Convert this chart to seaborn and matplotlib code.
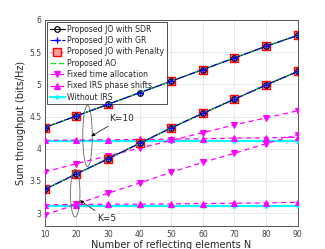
import matplotlib
matplotlib.use("Agg")
import matplotlib.pyplot as plt
from matplotlib.patches import Ellipse
import seaborn as sns
import numpy as np

sns.set_style("whitegrid")
plt.rcParams['font.family'] = ['DejaVu Sans']

N = [10, 20, 30, 40, 50, 60, 70, 80, 90]
prop_k10 = [4.33, 4.51, 4.69, 4.87, 5.05, 5.23, 5.41, 5.59, 5.76]
prop_k5 = [3.37, 3.61, 3.845, 4.085, 4.325, 4.55, 4.77, 4.99, 5.20]
fta_k10 = [3.64, 3.77, 3.89, 4.01, 4.13, 4.25, 4.37, 4.48, 4.59]
fta_k5 = [2.97, 3.14, 3.31, 3.47, 3.635, 3.79, 3.93, 4.08, 4.22]
fps_k10 = [4.13, 4.135, 4.14, 4.145, 4.15, 4.155, 4.165, 4.17, 4.18]
fps_k5 = [3.13, 3.135, 3.14, 3.14, 3.145, 3.15, 3.155, 3.16, 3.17]
noirs_k10 = [4.115] * 9
noirs_k5 = [3.11] * 9
xticks = [10, 20, 30, 40, 50, 60, 70, 80, 90]
yticks = [3, 3.5, 4, 4.5, 5, 5.5, 6]

fig = plt.figure(figsize=(3.25, 2.49), dpi=100)
ax = fig.add_axes([0.138, 0.092, 0.778, 0.828])

def draw(y, label, **kw):
    sns.lineplot(x=N, y=y, ax=ax, label=label, legend=False, **kw)

for i, (nv, fps, fta) in enumerate([(noirs_k10, fps_k10, fta_k10), (noirs_k5, fps_k5, fta_k5)]):
    lab = (i == 0)
    draw(nv, "Without IRS" if lab else None, color="cyan", lw=1.6, marker="*",
         markersize=3.5, markeredgecolor="cyan", zorder=3)
    draw(fps, "Fixed IRS phase shifts" if lab else None, color="magenta", lw=0.9,
         linestyle=(0, (4, 3)), marker="^", markersize=3.8, markerfacecolor="magenta",
         markeredgecolor="magenta", zorder=4)
    draw(fta, "Fixed time allocation" if lab else None, color="magenta", lw=0.9,
         linestyle=(0, (4, 3)), marker="v", markersize=3.8, markerfacecolor="magenta",
         markeredgecolor="magenta", zorder=4)

for i, pv in enumerate([prop_k10, prop_k5]):
    lab = (i == 0)
    draw(pv, "Proposed JO with Penalty" if lab else None, color="red", lw=0.8,
         linestyle=":", marker="s", markersize=5.5, markerfacecolor="#f7a0a0",
         markeredgecolor="red", markeredgewidth=1.0, zorder=5)
    draw(pv, "Proposed JO with SDR" if lab else None, color="black", lw=0.8,
         marker="o", markersize=4, markerfacecolor="none", markeredgecolor="black",
         markeredgewidth=0.9, zorder=6)
    draw(pv, "Proposed JO with GR" if lab else None, color="blue", lw=0.8,
         linestyle="-.", marker="+", markersize=4.5, markeredgecolor="blue",
         markeredgewidth=1.0, zorder=7)
    draw(pv, "Proposed AO" if lab else None, color="#22dd22", lw=1.0,
         linestyle=(0, (4, 2)), zorder=6.5)

ax.set_xlim(10, 90)
ax.set_ylim(2.8, 6)
ax.set_xticks(xticks)
ax.set_yticks(yticks)
ax.set_yticklabels(["3", "3.5", "4", "4.5", "5", "5.5", "6"])
ax.tick_params(labelsize=5.5, colors="#404040", length=2, direction="in", pad=2.5)
ax.grid(True, color="#e6e6e6", lw=0.6)
for s in ax.spines.values():
    s.set_color("#555555")
    s.set_linewidth(0.7)
ax.set_xlabel("Number of reflecting elements N", fontsize=7, labelpad=1)
ax.set_ylabel("Sum throughput (bits/Hz)", fontsize=7, labelpad=2)

# ellipses and annotations
ax.add_patch(Ellipse((23.5, 4.2), 3.0, 0.95, fill=False, ec="#666666", lw=0.6, zorder=8))
ax.add_patch(Ellipse((19.6, 3.31), 3.0, 0.74, fill=False, ec="#666666", lw=0.6, zorder=8))
ax.annotate("K=10", xy=(24.7, 4.195), xytext=(30.2, 4.47), fontsize=6.5,
            va="center", ha="left",
            arrowprops=dict(arrowstyle="-|>", color="black", lw=0.5, mutation_scale=5,
                            shrinkA=0, shrinkB=0), zorder=9)
ax.annotate("K=5", xy=(21.1, 3.20), xytext=(26.4, 2.92), fontsize=6.5,
            va="center", ha="left",
            arrowprops=dict(arrowstyle="-|>", color="black", lw=0.5, mutation_scale=5,
                            shrinkA=0, shrinkB=0), zorder=9)

handles, labels = ax.get_legend_handles_labels()
order = ["Proposed JO with SDR", "Proposed JO with GR", "Proposed JO with Penalty",
         "Proposed AO", "Fixed time allocation", "Fixed IRS phase shifts", "Without IRS"]
hmap = dict(zip(labels, handles))
leg = ax.legend([hmap[o] for o in order], order, loc="upper left", fontsize=5.6,
                frameon=True, fancybox=False, edgecolor="#333333", framealpha=1,
                labelspacing=0.3, handlelength=2.0, handletextpad=0.3,
                borderpad=0.3, borderaxespad=0.3)
leg.get_frame().set_linewidth(0.6)

fig.savefig("out.png", dpi=100)
